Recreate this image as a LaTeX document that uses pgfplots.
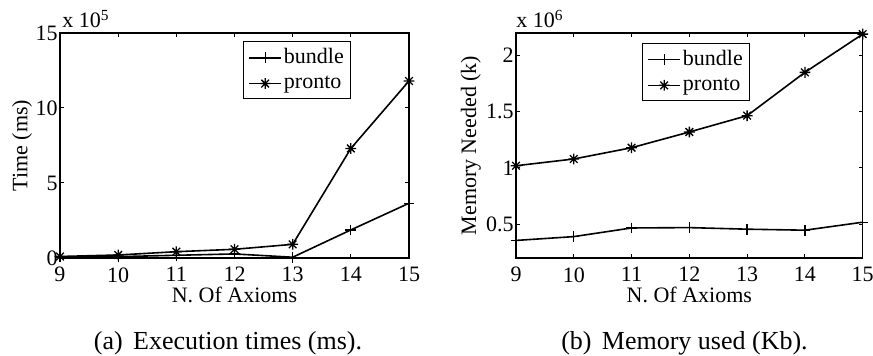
\documentclass[border=0pt]{standalone}
\usepackage{pgfplots}
\pgfplotsset{compat=1.18}
\usepackage{fontspec}
\setmainfont{Liberation Serif}

\pgfdeclareplotmark{mstar}{%
  \pgfpathmoveto{\pgfqpoint{-\pgfplotmarksize}{0pt}}\pgfpathlineto{\pgfqpoint{\pgfplotmarksize}{0pt}}%
  \pgfpathmoveto{\pgfqpoint{0pt}{-\pgfplotmarksize}}\pgfpathlineto{\pgfqpoint{0pt}{\pgfplotmarksize}}%
  \pgfpathmoveto{\pgfqpoint{-0.707\pgfplotmarksize}{-0.707\pgfplotmarksize}}\pgfpathlineto{\pgfqpoint{0.707\pgfplotmarksize}{0.707\pgfplotmarksize}}%
  \pgfpathmoveto{\pgfqpoint{-0.707\pgfplotmarksize}{0.707\pgfplotmarksize}}\pgfpathlineto{\pgfqpoint{0.707\pgfplotmarksize}{-0.707\pgfplotmarksize}}%
  \pgfusepathqstroke}

\pgfplotstableread{
x bundle pronto
9  0.07 0.10
10 0.09 0.20
11 0.18 0.42
12 0.27 0.58
13 0.05 0.91
14 1.87 7.30
15 3.65 11.80
}\timedata

\pgfplotstableread{
x bundle pronto
9  0.356 1.02
10 0.390 1.08
11 0.467 1.18
12 0.470 1.32
13 0.456 1.465
14 0.447 1.85
15 0.518 2.19
}\memdata

\newcommand\tfont{\fontsize{11}{13}\selectfont}

\pgfplotsset{
  mystyle/.style={
    scale only axis, anchor=south west, clip mode=individual,
    xmin=9, xmax=15, xtick={9,...,15},
    tick align=inside, major tick length=2pt,
    axis line style={line width=0.6pt},
    every tick/.style={black, line width=0.5pt},
    tick label style={font=\tfont},
    label style={font=\tfont},
    /pgf/number format/assume math mode=true,
    scaled ticks=false,
    yticklabel style={inner sep=0pt, xshift=-1pt},
    xticklabel style={inner sep=0pt, yshift=-4.5pt},
    xlabel={N. Of Axioms},
    xlabel style={at={(axis description cs:0.5,0)}, anchor=base, yshift=-22.5pt, inner sep=0pt},
    legend cell align=left,
    legend style={draw=black, line width=0.5pt, font=\tfont,
      inner xsep=2.5pt, inner ysep=2.5pt, row sep=2.5pt,
      nodes={inner xsep=1pt, inner ysep=1pt}},
    legend image code/.code={%
      \draw[mark repeat=2,mark phase=2,#1] plot coordinates {(0pt,0pt) (8pt,0pt) (16pt,0pt)};},
    every axis plot/.append style={black, line width=0.8pt, mark size=2.7pt,
      mark options={line width=0.65pt}},
  }
}

\begin{document}
\begin{tikzpicture}
\path[use as bounding box] (0,0) rectangle (436.5pt,178pt);

\begin{axis}[mystyle, at={(30pt,49pt)}, width=174.5pt, height=112.5pt,
  ymin=0, ymax=15, ytick={0,5,10,15},
  ylabel={Time (ms)},
  ylabel style={at={(axis description cs:-0.109,0.5)}, anchor=center, inner sep=0pt},
  legend style={at={(axis description cs:0.524,0.964)}, anchor=north west},
]
\addplot[mark=+] table[x=x, y=bundle] {\timedata};
\addplot[mark=mstar] table[x=x, y=pronto] {\timedata};
\legend{bundle, pronto}
\node[anchor=base west, inner sep=0pt, font=\tfont] at (axis description cs:0,1) [xshift=1pt, yshift=2.5pt] {x 10\textsuperscript{5}};
\end{axis}

\begin{axis}[mystyle, at={(258pt,49pt)}, width=173.35pt, height=112.5pt,
  ymin=0.2, ymax=2.2, ytick={0.5,1,1.5,2},
  ylabel={Memory Needed (k)},
  ylabel style={at={(axis description cs:-0.13,0.5)}, anchor=center, inner sep=0pt},
  legend style={at={(axis description cs:0.363,0.956)}, anchor=north west},
]
\addplot[mark=+] table[x=x, y=bundle] {\memdata};
\addplot[mark=mstar] table[x=x, y=pronto] {\memdata};
\legend{bundle, pronto}
\node[anchor=base west, inner sep=0pt, font=\tfont] at (axis description cs:0,1) [xshift=0pt, yshift=2.5pt] {x 10\textsuperscript{6}};
\end{axis}

\node[anchor=base, inner sep=0pt, font=\fontsize{13}{15}\selectfont] at (114pt,3pt) {(a)\hspace{0.4em}Execution times (ms).};
\node[anchor=base, inner sep=0pt, font=\fontsize{13}{15}\selectfont] at (342.25pt,3pt) {(b)\hspace{0.4em}Memory used (Kb).};
\end{tikzpicture}
\end{document}
